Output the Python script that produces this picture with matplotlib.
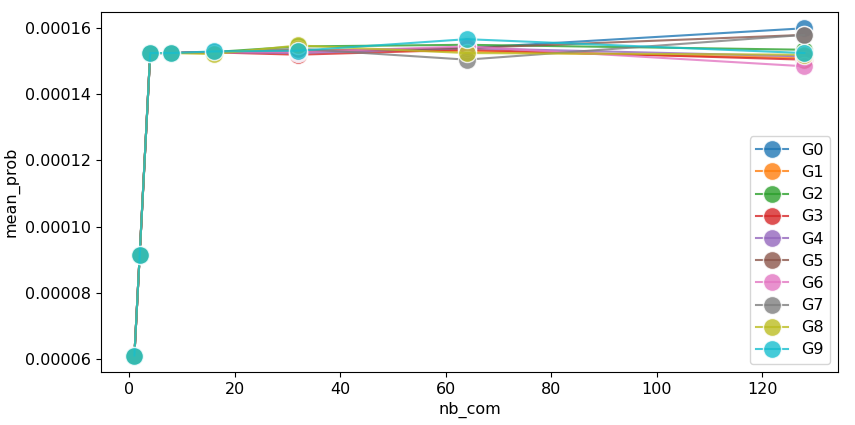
import numpy as np
import matplotlib.pyplot as plt

nb_com = [1, 2, 4, 8, 16, 32, 64, 128]
groups = ['G0', 'G1', 'G2', 'G3', 'G4', 'G5', 'G6', 'G7', 'G8', 'G9']

# mean_prob per group (x 1e-4)
G0 = [0.610, 0.913, 1.525, 1.525, 1.528, 1.530, 1.540, 1.600]
G1 = [0.610, 0.913, 1.525, 1.525, 1.527, 1.535, 1.530, 1.510]
G2 = [0.610, 0.913, 1.525, 1.525, 1.528, 1.545, 1.550, 1.535]
G3 = [0.610, 0.913, 1.525, 1.525, 1.527, 1.520, 1.535, 1.505]
G4 = [0.610, 0.913, 1.525, 1.525, 1.528, 1.525, 1.540, 1.515]
G5 = [0.610, 0.913, 1.525, 1.525, 1.528, 1.530, 1.540, 1.580]
G6 = [0.610, 0.913, 1.525, 1.525, 1.527, 1.528, 1.545, 1.485]
G7 = [0.610, 0.913, 1.525, 1.525, 1.527, 1.538, 1.505, 1.580]
G8 = [0.610, 0.913, 1.525, 1.525, 1.522, 1.548, 1.525, 1.520]
G9 = [0.610, 0.913, 1.525, 1.525, 1.530, 1.532, 1.567, 1.525]
series = [G0, G1, G2, G3, G4, G5, G6, G7, G8, G9]

plt.rcParams['font.size'] = 11.5

fig = plt.figure(figsize=(8.55, 4.25), dpi=100)
ax = fig.add_axes([0.118, 0.125, 0.862, 0.847])

colors = plt.get_cmap('tab10').colors
for name, vals, c in zip(groups, series, colors):
    ax.plot(nb_com, np.array(vals) * 1e-4, color=c, marker='o', markersize=13,
            markeredgecolor='white', markeredgewidth=1, linewidth=1.5,
            alpha=0.8, label=name)

ax.set_xlabel('nb_com')
ax.set_ylabel('mean_prob')
ax.set_yticks([0.00006, 0.00008, 0.00010, 0.00012, 0.00014, 0.00016])
ax.set_yticklabels(['0.00006', '0.00008', '0.00010', '0.00012', '0.00014', '0.00016'])
ax.legend(loc='lower right', labelspacing=0.45)

fig.savefig('out.png', dpi=100)
